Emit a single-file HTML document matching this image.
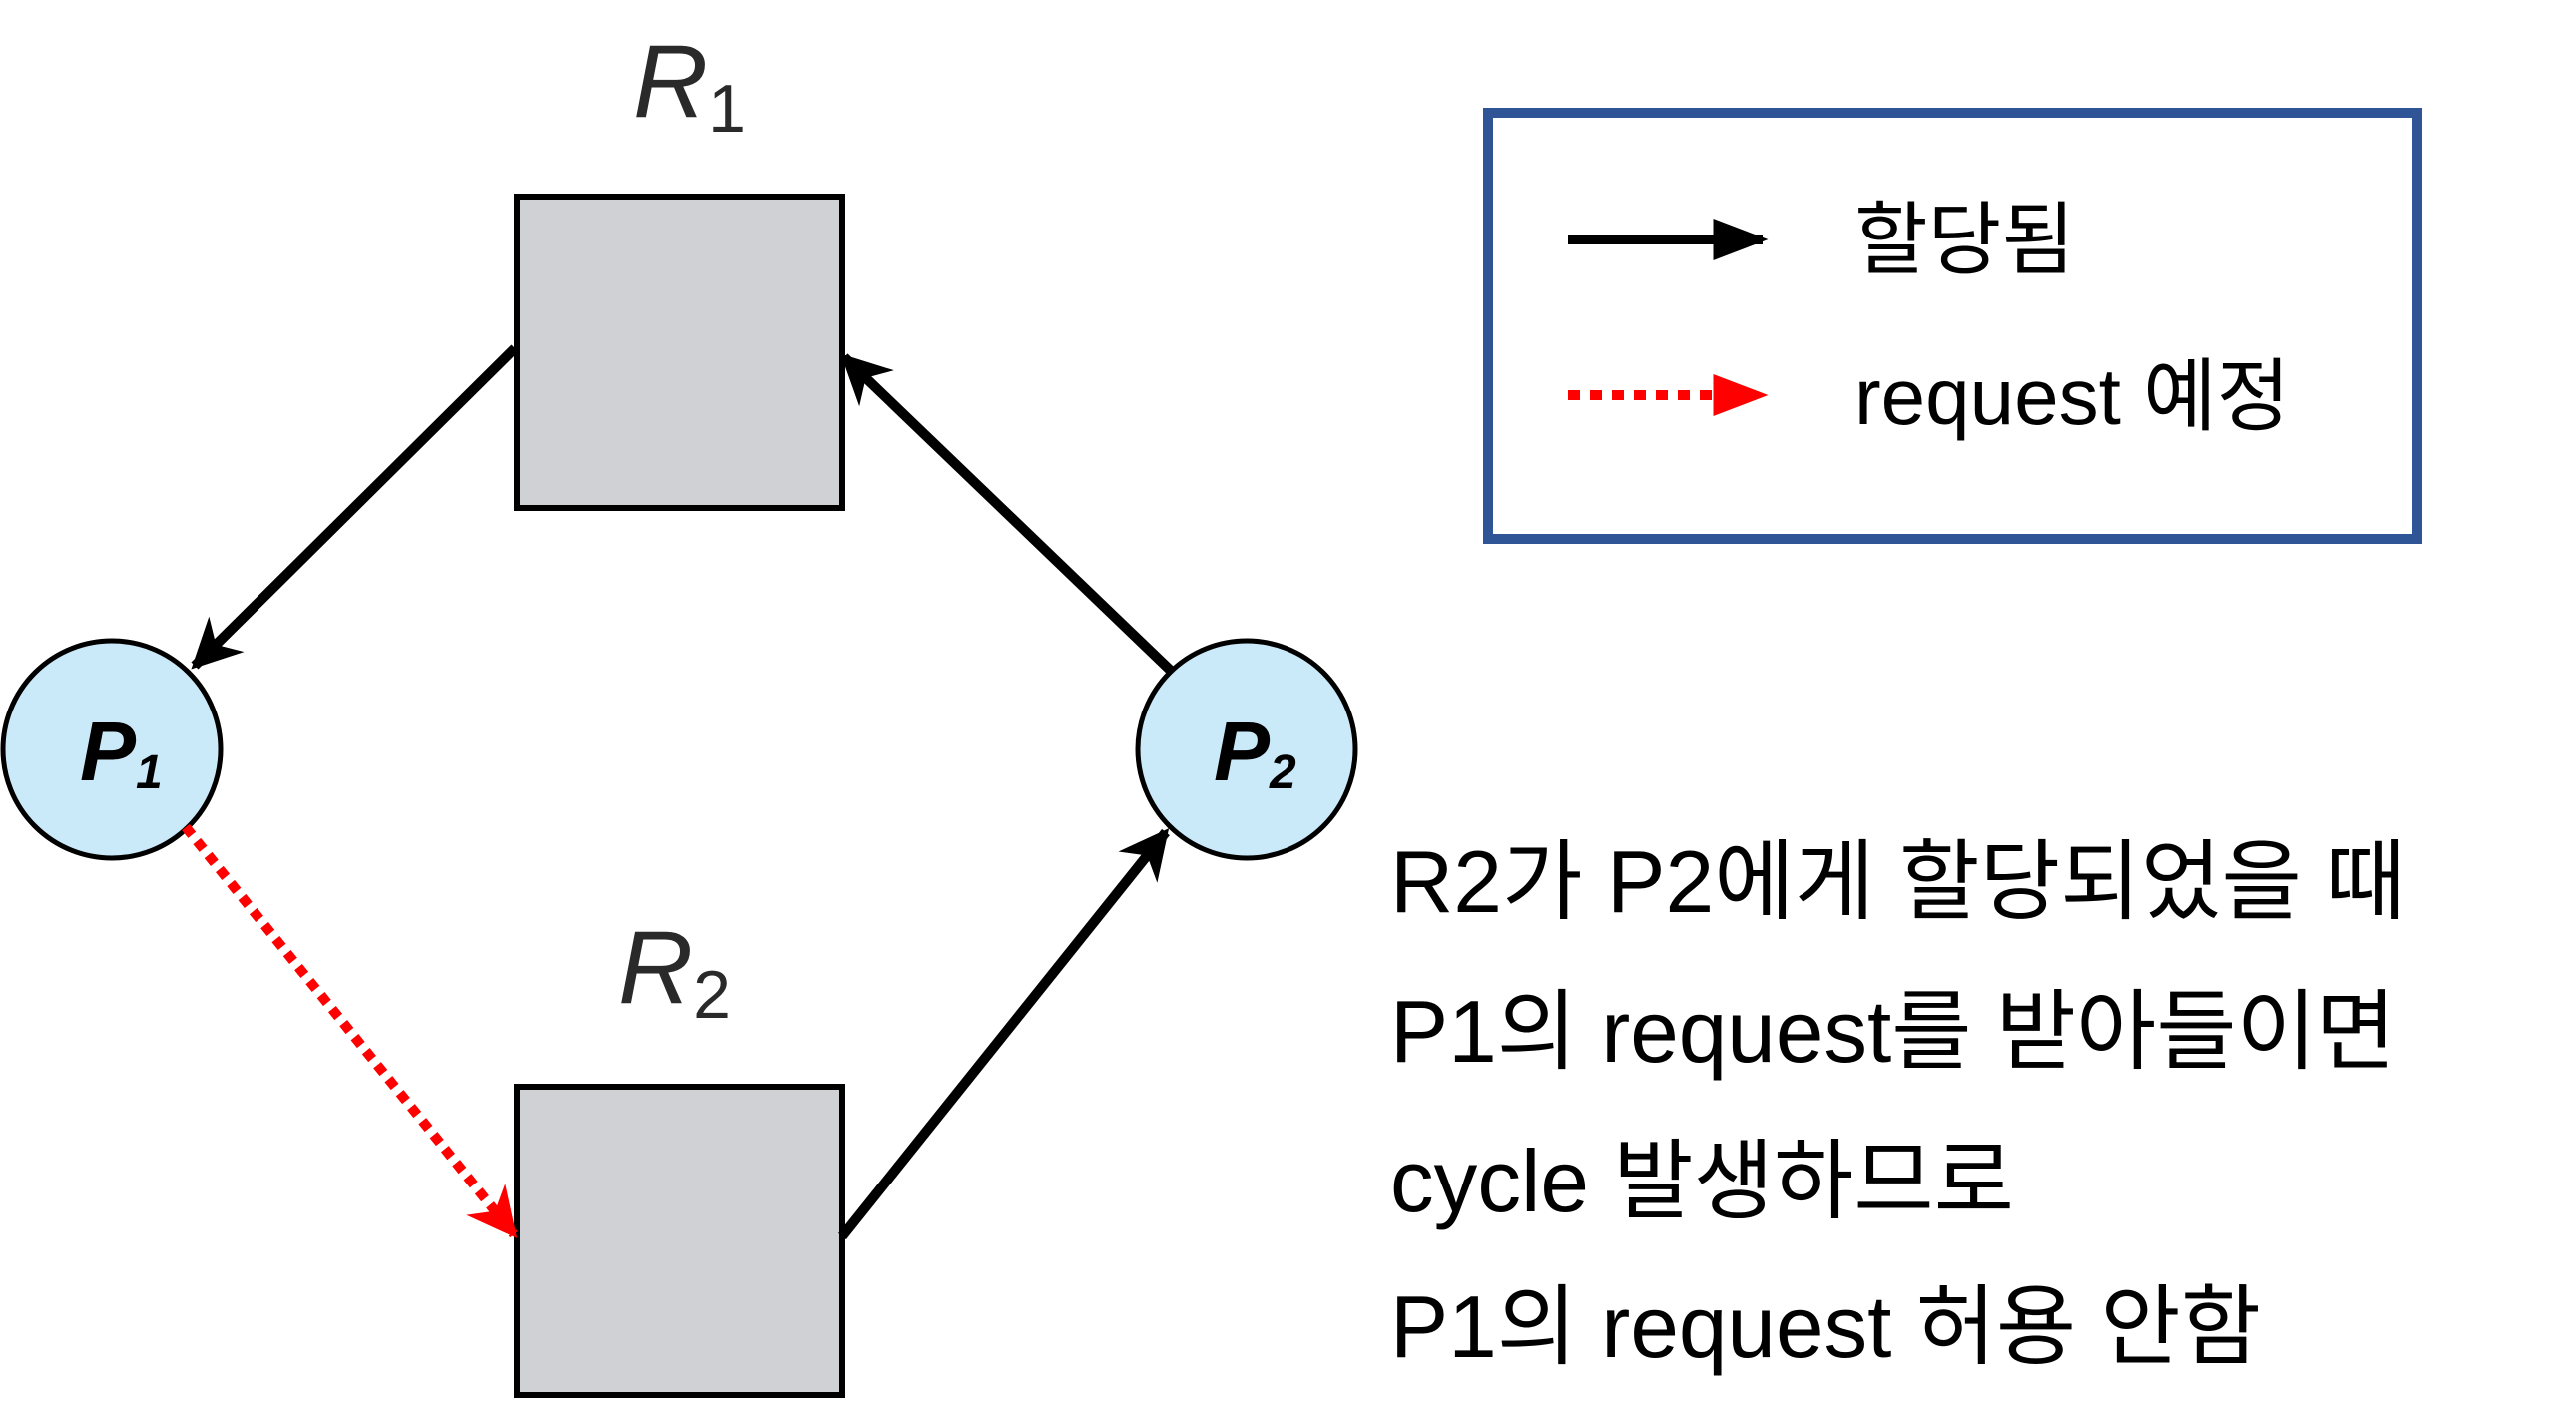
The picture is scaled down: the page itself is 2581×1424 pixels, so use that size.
<!DOCTYPE html>
<html><head><meta charset="utf-8"><style>
html,body{margin:0;padding:0;background:#fff;}
svg{display:block;}
</style></head><body>
<svg width="2581" height="1424" viewBox="0 0 2581 1424" xmlns="http://www.w3.org/2000/svg">
<defs>
<marker id="ab" viewBox="0 0 10 10" refX="9" refY="5" markerWidth="5" markerHeight="5" orient="auto" markerUnits="strokeWidth"><path d="M0,0 L10,5 L0,10 L3,5 z" fill="#000"/></marker>
<marker id="ar" viewBox="0 0 10 10" refX="9" refY="5" markerWidth="5" markerHeight="5" orient="auto" markerUnits="strokeWidth"><path d="M0,0 L10,5 L0,10 L3,5 z" fill="#f00"/></marker>
<marker id="lb" viewBox="0 0 10 10" refX="9" refY="5" markerWidth="5.5" markerHeight="4.2" orient="auto" markerUnits="strokeWidth" preserveAspectRatio="none"><path d="M0,0 L10,5 L0,10 z" fill="#000"/></marker>
<marker id="lr" viewBox="0 0 10 10" refX="9" refY="5" markerWidth="5.5" markerHeight="4.2" orient="auto" markerUnits="strokeWidth" preserveAspectRatio="none"><path d="M0,0 L10,5 L0,10 z" fill="#f00"/></marker>
</defs>
<rect x="518" y="197" width="326" height="312" fill="#d0d1d5" stroke="#000" stroke-width="6"/>
<rect x="518" y="1089" width="326" height="309" fill="#d0d1d5" stroke="#000" stroke-width="6"/>
<circle cx="112" cy="751" r="109" fill="#cae9f9" stroke="#000" stroke-width="5"/>
<circle cx="1249" cy="751" r="109" fill="#cae9f9" stroke="#000" stroke-width="5"/>
<text x="634" y="117" font-family="Liberation Sans, sans-serif" font-style="italic" font-size="104" fill="#2a2a2a">R<tspan font-size="68" font-style="normal" dy="15">1</tspan></text>
<text x="619" y="1005" font-family="Liberation Sans, sans-serif" font-style="italic" font-size="104" fill="#2a2a2a">R<tspan font-size="68" font-style="normal" dy="15">2</tspan></text>
<text x="80" y="782" font-family="Liberation Sans, sans-serif" font-style="italic" font-weight="bold" font-size="84" fill="#000">P<tspan font-size="48" dy="8">1</tspan></text>
<text x="1216" y="782" font-family="Liberation Sans, sans-serif" font-style="italic" font-weight="bold" font-size="84" fill="#000">P<tspan font-size="48" dy="8">2</tspan></text>
<line x1="516" y1="349" x2="195" y2="667" stroke="#000" stroke-width="10" marker-end="url(#ab)"/>
<line x1="1173" y1="672" x2="846" y2="358" stroke="#000" stroke-width="10" marker-end="url(#ab)"/>
<line x1="844" y1="1239" x2="1168" y2="834" stroke="#000" stroke-width="10" marker-end="url(#ab)"/>
<line x1="186" y1="829" x2="515" y2="1237" stroke="#f00" stroke-width="10" stroke-dasharray="10 8" marker-end="url(#ar)"/>
<rect x="1491" y="113" width="931" height="427" fill="#fff" stroke="#2f5597" stroke-width="10"/>
<line x1="1571" y1="240" x2="1766" y2="240" stroke="#000" stroke-width="10" marker-end="url(#lb)"/>
<line x1="1571" y1="396" x2="1766" y2="396" stroke="#f00" stroke-width="10" stroke-dasharray="12 10" marker-end="url(#lr)"/>
<text x="1858" y="268" font-family="Liberation Sans, Noto Sans CJK KR, sans-serif" font-size="80" fill="#000">할당됨</text>
<text x="1858" y="425" font-family="Liberation Sans, Noto Sans CJK KR, sans-serif" font-size="80" fill="#000">request 예정</text>
<g font-family="Liberation Sans, Noto Sans CJK KR, sans-serif" font-size="88" fill="#000">
<text x="1393" y="914" textLength="1018" lengthAdjust="spacingAndGlyphs">R2가 P2에게 할당되었을 때</text>
<text x="1393" y="1064" textLength="1008" lengthAdjust="spacingAndGlyphs">P1의 request를 받아들이면</text>
<text x="1393" y="1214" textLength="625" lengthAdjust="spacingAndGlyphs">cycle 발생하므로</text>
<text x="1393" y="1360" textLength="872" lengthAdjust="spacingAndGlyphs">P1의 request 허용 안함</text>
</g>
</svg>
</body></html>
